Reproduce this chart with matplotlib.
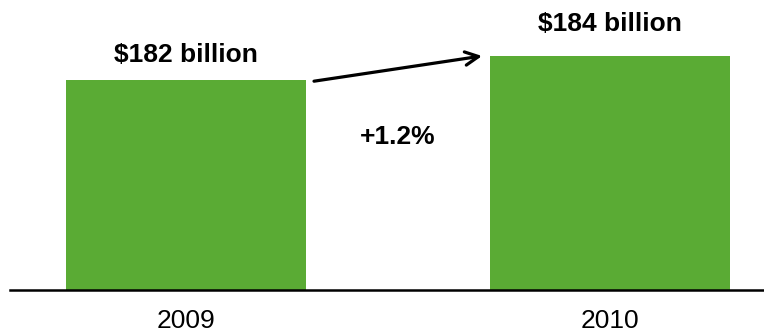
import matplotlib.pyplot as plt

# Revenue by year (USD billions)
years = ["2009", "2010"]
revenue = [182, 184]
value_labels = ["$182 billion", "$184 billion"]
growth_label = "+1.2%"

GREEN = "#5AAB34"
plt.rcParams["font.family"] = ["Liberation Sans", "DejaVu Sans"]

fig = plt.figure(figsize=(7.64, 3.35), dpi=100)
# axes spans from the left margin to the right edge, baseline 45 px above the bottom
ax = fig.add_axes([10 / 764, 45 / 335, 754 / 764, 290 / 335])

x = [0, 1]
bar_w = 0.566
ax.bar(x, revenue, width=bar_w, color=GREEN, zorder=2)

ax.set_xlim(-0.415, 1.363)
ax.set_ylim(164.5, 164.5 + 290 / 12)

# value labels above the bars
label_offsets = [25, 32]
for xi, val, txt, off in zip(x, revenue, value_labels, label_offsets):
    ax.annotate(txt, (xi, val), xytext=(0, off * 0.72), textcoords="offset points",
                ha="center", va="center", fontsize=19, fontweight="bold")

# growth arrow between the bar tops
gap = 8 / 424
ax.annotate("", xy=(x[1] - bar_w / 2 - gap, revenue[1]),
            xytext=(x[0] + bar_w / 2 + gap, revenue[0] - 0.1),
            arrowprops=dict(arrowstyle="->", lw=2.3, color="black",
                            mutation_scale=24, shrinkA=0, shrinkB=0))
ax.text(0.5, 177.25, growth_label, ha="center", va="center",
        fontsize=19, fontweight="bold")

# only the baseline remains
for side in ["left", "right", "top"]:
    ax.spines[side].set_visible(False)
ax.spines["bottom"].set_linewidth(1.8)
ax.spines["bottom"].set_color("black")
ax.set_yticks([])
ax.set_xticks(x, years)
ax.tick_params(axis="x", length=0, pad=13.5, labelsize=19)

fig.savefig("out.png", dpi=100)
